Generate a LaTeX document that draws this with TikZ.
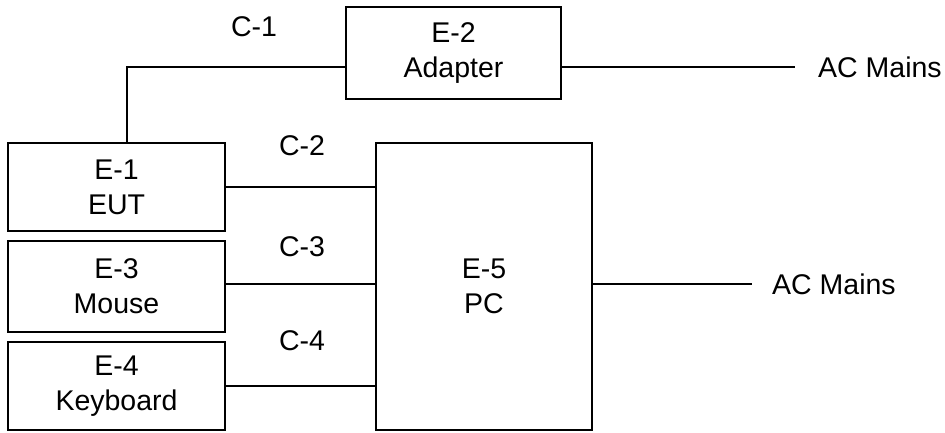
\documentclass[tikz,border=0pt]{standalone}
\usepackage{fontspec}
\setmainfont{Liberation Sans}
\begin{document}
\begin{tikzpicture}[x=1pt,y=-1pt,
  every node/.style={font=\fontsize{28.5}{35}\selectfont},
  box/.style={draw=black,line width=2pt,rectangle,inner sep=0pt,outer sep=0pt,align=center},
  wire/.style={draw=black,line width=2pt},
  lbl/.style={inner sep=0pt}]
\useasboundingbox (0,0) rectangle (945,432);
\node[box,minimum width=215pt,minimum height=92pt] (E2) at (453.5,53) {E-2\\Adapter};
\node[box,minimum width=217pt,minimum height=88pt] (E1) at (116.5,187) {E-1\\EUT};
\node[box,minimum width=217pt,minimum height=91pt] (E3) at (116.5,286.5) {E-3\\Mouse};
\node[box,minimum width=217pt,minimum height=88pt] (E4) at (116.5,386) {E-4\\Keyboard};
\node[box,minimum width=216pt,minimum height=287pt] (E5) at (484,286.5) {E-5\\PC};
\coordinate (c1) at (127,67);
\coordinate (acA) at (795,67);
\coordinate (acB) at (752,284);
\coordinate (c3) at (225,284);
\draw[wire] (E1.north -| c1) -- (c1) -- (E2.west |- c1);
\draw[wire] (E2.east |- c1) -- (acA);
\draw[wire] (E1.east) -- (E1.east -| E5.west);
\draw[wire] (c3) -- (c3 -| E5.west);
\draw[wire] (E4.east) -- (E4.east -| E5.west);
\draw[wire] (E5.east |- acB) -- (acB);
\node[lbl,anchor=west] (t1) at (818,67) {AC Mains};
\node[lbl,anchor=west] (t2) at (772,284) {AC Mains};
\node[lbl] (l1) at (254,27) {C-1};
\node[lbl] (l2) at (302,146) {C-2};
\node[lbl] (l3) at (302,247) {C-3};
\node[lbl] (l4) at (302,341) {C-4};
\end{tikzpicture}
\end{document}
